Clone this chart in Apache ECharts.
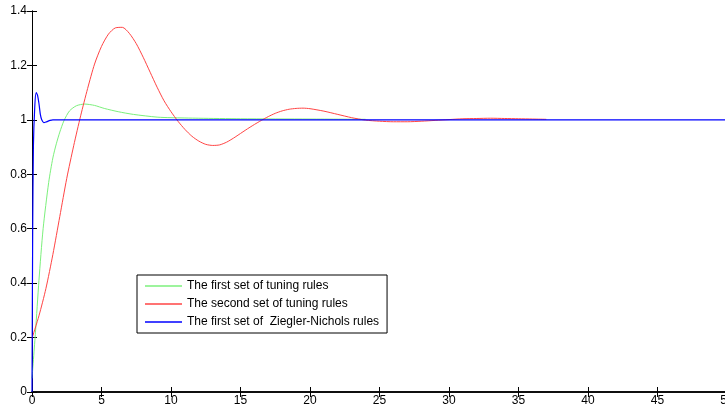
<!DOCTYPE html>
<html>
<head>
<meta charset="utf-8">
<script src="https://cdn.jsdelivr.net/npm/echarts@6/dist/echarts.min.js"></script>
<style>
  html, body { margin: 0; padding: 0; background: #fff; }
  #chart { width: 725px; height: 409px; }
</style>
</head>
<body>
<div id="chart"></div>
<script>
// noms des courbes
const seriesNames = ['The first set of tuning rules', 'The second set of tuning rules', 'The first set of  Ziegler-Nichols rules'];

// premiere serie (verte)
const tFirst = [0, 0.25, 0.5, 0.8, 1.2, 1.5, 1.75, 2, 2.3, 2.7, 3.2, 3.8, 4.5, 5.2, 6.2, 7.3, 9, 10, 12, 15, 20, 24];
const yFirst = [0.05, 0.22, 0.41, 0.6, 0.77, 0.86, 0.912, 0.955, 0.997, 1.033, 1.052, 1.058, 1.053, 1.042, 1.03, 1.02, 1.01, 1.008, 1.006, 1.004, 1.003, 1.002];

// deuxieme serie (rouge)
const tSecond = [0, 0.5, 1, 1.5, 2, 2.5, 3, 3.5, 4, 4.5, 5, 5.5, 6, 6.5, 7, 7.5, 8, 8.5, 9, 9.5, 10, 10.5, 11, 11.5, 12, 12.5, 13, 13.5, 14, 14.5, 15, 15.5, 16, 16.5, 17, 17.5, 18, 18.5, 19, 19.5, 20, 21, 22, 23, 24, 25, 26, 27, 28, 29, 30, 31, 32, 33, 34, 35, 36, 37];
const ySecond = [0.197, 0.28, 0.38, 0.505, 0.645, 0.785, 0.905, 1.015, 1.115, 1.205, 1.27, 1.315, 1.338, 1.34, 1.318, 1.28, 1.23, 1.175, 1.12, 1.07, 1.03, 0.995, 0.965, 0.94, 0.922, 0.91, 0.906, 0.908, 0.918, 0.933, 0.95, 0.967, 0.983, 0.998, 1.012, 1.024, 1.033, 1.039, 1.042, 1.043, 1.041, 1.032, 1.02, 1.008, 0.999, 0.995, 0.993, 0.993, 0.995, 0.998, 1.001, 1.004, 1.005, 1.006, 1.005, 1.004, 1.003, 1.002];

// Ziegler-Nichols (bleue)
const tZN = [0, 0.05, 0.1, 0.2, 0.3, 0.4, 0.5, 0.6, 0.7, 0.85, 1.0, 1.3, 1.5, 10, 20, 30, 40, 50];
const yZN = [0, 0.6, 0.9, 1.05, 1.1, 1.09, 1.06, 1.02, 1.0, 0.99, 0.992, 0.998, 1.0, 1.0, 1.0, 1.0, 1.0, 1.0];

// graduations
const xMin = 0, xMax = 50, xStep = 5;
const yMin = 0, yMax = 1.4, yStep = 0.2;

function zip(ts, ys) {
    return ts.map((t, i) => [t, ys[i]]);
}

const chart = echarts.init(document.getElementById('chart'));

const font = 'Arial, "Liberation Sans", sans-serif';
const axisLine = { show: true, lineStyle: { color: '#000', width: 1 } };
const tickIn = { show: true, inside: true, length: 5, lineStyle: { color: '#000' } };

const option = {
    animation: false,
    backgroundColor: '#fff',
    grid: { left: 32, right: -2, top: 11, bottom: 17, show: false, containLabel: false, outerBoundsMode: 'none' },
    xAxis: [
        {
            type: 'value', min: xMin, max: xMax, interval: xStep, position: 'bottom',
            axisLine: { show: true, lineStyle: { color: '#000', width: 1.5 } },
            axisTick: tickIn, splitLine: { show: false },
            axisLabel: { color: '#000', fontSize: 12, fontFamily: font, margin: 3, showMaxLabel: true }
        },
        {
            type: 'value', min: xMin, max: xMax, interval: xStep, position: 'top',
            axisLine: { show: true, lineStyle: { color: '#000', width: 1.5 } },
            axisTick: tickIn, axisLabel: { show: false }, splitLine: { show: false }
        }
    ],
    yAxis: [
        {
            type: 'value', min: yMin, max: yMax, interval: yStep, position: 'left',
            axisLine: axisLine, axisTick: tickIn, splitLine: { show: false },
            axisLabel: { color: '#000', fontSize: 12, fontFamily: font, margin: 5,
                formatter: v => String(+v.toFixed(1)) }
        },
        {
            type: 'value', min: yMin, max: yMax, interval: yStep, position: 'right',
            axisLine: axisLine, axisTick: tickIn, axisLabel: { show: false }, splitLine: { show: false }
        }
    ],
    legend: {
        orient: 'vertical',
        left: 137, top: 275,
        data: seriesNames,
        icon: 'rect',
        backgroundColor: '#fff',
        borderColor: '#000', borderWidth: 1,
        padding: [4, 8, 4, 8],
        itemWidth: 37, itemHeight: 1.5, itemGap: 4,
        textStyle: { color: '#000', fontSize: 12, fontFamily: font, lineHeight: 14 }
    },
    series: [
        {
            name: seriesNames[0], type: 'line', data: zip(tFirst, yFirst),
            symbol: 'none', smooth: 0.25,
            lineStyle: { color: '#7CF07C', width: 1 }, itemStyle: { color: '#7CF07C' }, z: 2
        },
        {
            name: seriesNames[1], type: 'line', data: zip(tSecond, ySecond),
            symbol: 'none', smooth: 0.25,
            lineStyle: { color: '#FF4444', width: 1 }, itemStyle: { color: '#FF4444' }, z: 3
        },
        {
            name: seriesNames[2], type: 'line', data: zip(tZN, yZN),
            symbol: 'none', smooth: 0.2,
            lineStyle: { color: '#0000FF', width: 1.2 }, itemStyle: { color: '#0000FF' }, z: 4
        }
    ]
};

chart.setOption(option);
</script>
</body>
</html>
